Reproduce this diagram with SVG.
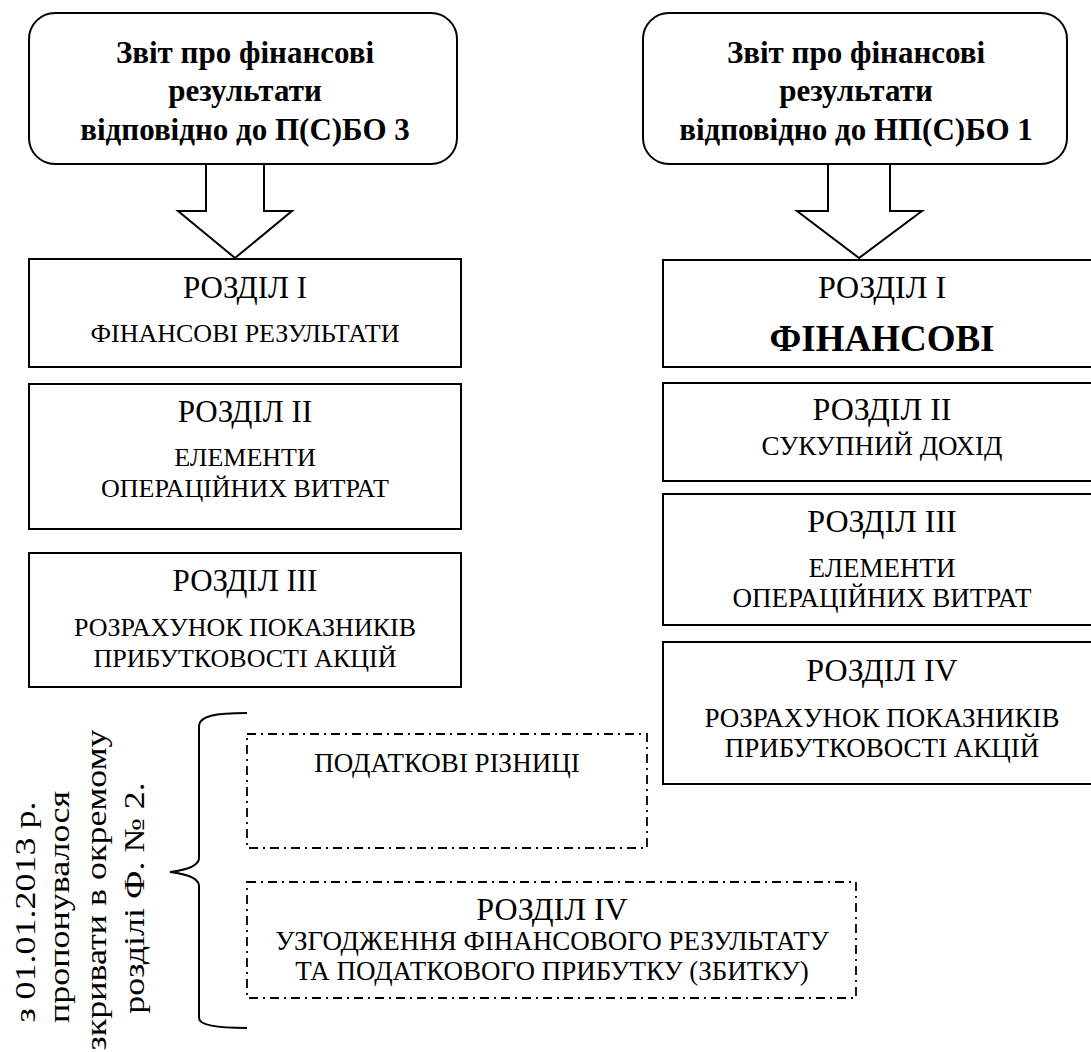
<svg xmlns="http://www.w3.org/2000/svg" width="1091" height="1052" viewBox="0 0 1091 1052">
<style>
  .box { fill: #fff; stroke: #000; stroke-width: 2; }
  .dbox { fill: none; stroke: #000; stroke-width: 1.8; stroke-dasharray: 9 5 2 5; }
  .arrow { fill: #fff; stroke: #000; stroke-width: 2; stroke-linejoin: miter; }
  .brace { fill: none; stroke: #000; stroke-width: 2; }
  text { font-family: "Liberation Serif", "Times New Roman", serif; fill: #000; text-anchor: middle; }
  .title { font-size: 31px; font-weight: bold; }
  .headl { font-size: 31px; }
  .head { font-size: 32px; }
  .subl { font-size: 26px; }
  .sub { font-size: 27px; }
  .big { font-size: 37px; font-weight: bold; }
  .rot { font-size: 36px; }
</style>
<rect width="1091" height="1052" fill="#fff"/>

<g id="title-left">
  <rect class="box" x="29" y="13" width="428" height="151" rx="26"/>
  <text class="title" x="245" y="63">Звіт про фінансові</text>
  <text class="title" x="245" y="101">результати</text>
  <text class="title" x="245" y="140">відповідно до П(С)БО 3</text>
</g>
<g id="title-right">
  <rect class="box" x="643" y="13" width="424" height="151" rx="26"/>
  <text class="title" x="856" y="63">Звіт про фінансові</text>
  <text class="title" x="856" y="101">результати</text>
  <text class="title" x="856" y="140">відповідно до НП(С)БО 1</text>
</g>

<g id="left-s1">
  <rect class="box" x="29" y="259" width="432" height="108"/>
  <text class="headl" x="245" y="298">РОЗДІЛ І</text>
  <text class="subl" x="245" y="342">ФІНАНСОВІ РЕЗУЛЬТАТИ</text>
</g>
<g id="left-s2">
  <rect class="box" x="29" y="384" width="432" height="145"/>
  <text class="headl" x="245" y="422">РОЗДІЛ ІІ</text>
  <text class="subl" x="245" y="466">ЕЛЕМЕНТИ</text>
  <text class="subl" x="245" y="497">ОПЕРАЦІЙНИХ ВИТРАТ</text>
</g>
<g id="left-s3">
  <rect class="box" x="29" y="553" width="432" height="134"/>
  <text class="headl" x="245" y="591">РОЗДІЛ ІІІ</text>
  <text class="subl" x="245" y="636">РОЗРАХУНОК ПОКАЗНИКІВ</text>
  <text class="subl" x="245" y="667">ПРИБУТКОВОСТІ АКЦІЙ</text>
</g>

<g id="right-s1">
  <rect class="box" x="663" y="260" width="438" height="107"/>
  <text class="head" x="882" y="298">РОЗДІЛ І</text>
  <text class="big" x="882" y="351">ФІНАНСОВІ</text>
</g>
<g id="right-s2">
  <rect class="box" x="663" y="383" width="438" height="98"/>
  <text class="head" x="882" y="420">РОЗДІЛ ІІ</text>
  <text class="sub" x="882" y="455">СУКУПНИЙ ДОХІД</text>
</g>
<g id="right-s3">
  <rect class="box" x="663" y="494" width="438" height="131"/>
  <text class="head" x="882" y="532">РОЗДІЛ ІІІ</text>
  <text class="sub" x="882" y="577">ЕЛЕМЕНТИ</text>
  <text class="sub" x="882" y="607">ОПЕРАЦІЙНИХ ВИТРАТ</text>
</g>
<g id="right-s4">
  <rect class="box" x="663" y="642" width="438" height="142"/>
  <text class="head" x="882" y="681">РОЗДІЛ IV</text>
  <text class="sub" x="882" y="727">РОЗРАХУНОК ПОКАЗНИКІВ</text>
  <text class="sub" x="882" y="757">ПРИБУТКОВОСТІ АКЦІЙ</text>
</g>

<g id="tax-diff">
  <rect class="dbox" x="247" y="734" width="400" height="114"/>
  <text class="sub" x="447" y="772">ПОДАТКОВІ РІЗНИЦІ</text>
</g>
<g id="section-iv">
  <rect class="dbox" x="247" y="882" width="609" height="116"/>
  <text class="head" x="552" y="920">РОЗДІЛ IV</text>
  <text class="sub" x="552" y="950">УЗГОДЖЕННЯ ФІНАНСОВОГО РЕЗУЛЬТАТУ</text>
  <text class="sub" x="552" y="980">ТА ПОДАТКОВОГО ПРИБУТКУ (ЗБИТКУ)</text>
</g>

<g id="note">
  <text class="rot" transform="translate(35,912) rotate(-90) scale(1,0.79)" x="0" y="0">з 01.01.2013 р.</text>
  <text class="rot" transform="translate(69,907) rotate(-90) scale(1,0.79)" x="0" y="0">пропонувалося</text>
  <text class="rot" transform="translate(106,908) rotate(-90) scale(1,0.79)" x="0" y="0">розкривати в окремому</text>
  <text class="rot" transform="translate(144,898) rotate(-90) scale(1,0.79)" x="0" y="0">розділі Ф. № 2.</text>
</g>

<g id="connectors">
  <polygon class="arrow" points="206,164 264,164 264,211 292,211 235,258 178,211 206,211"/>
  <polygon class="arrow" points="828,164 890,164 890,211 922,211 859,258 797,211 828,211"/>
  <path class="brace" d="M247,713 C215,713 199,716 199,726 L199,858 C199,866 186,870 170,872 C186,874 199,878 199,886 L199,1018 C199,1025 215,1028 247,1028"/>
</g>
</svg>
